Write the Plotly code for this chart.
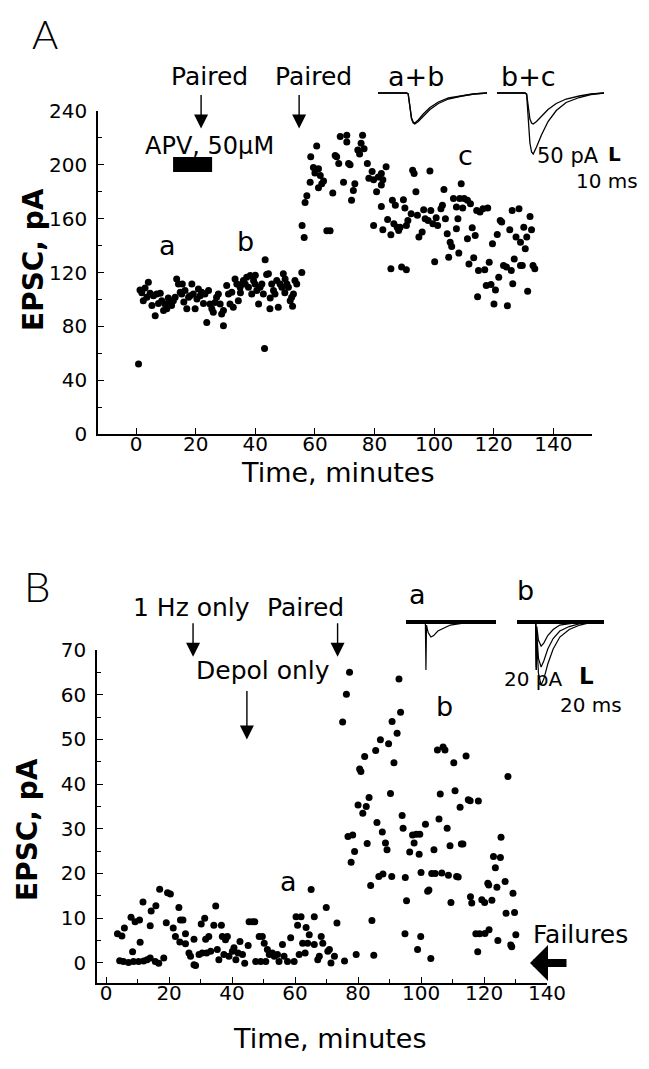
import plotly.graph_objects as go

W, H = 649, 1069
OFF = 8  # default page body margin around the figure
FW, FH = W - 2 * OFF, H - 2 * OFF
FONT = "DejaVu Sans, Liberation Sans, Arial, sans-serif"

# ---------------- Panel A data (time in minutes, EPSC in pA) ----------------
tA = [0.8, 1.3, 1.9, 2.4, 3.0, 3.6, 4.1, 4.7, 5.3, 5.8, 6.4, 6.9, 7.5, 8.1, 8.6, 9.2, 9.7, 10.3,
      10.8, 11.4, 11.9, 12.5, 13.1, 13.6, 14.2, 14.8, 15.3, 15.5, 16.0, 16.4, 17.0, 17.6, 18.1,
      18.7, 19.2, 19.8, 20.4, 20.9, 21.5, 22.0, 22.6, 23.1, 23.7, 24.3, 24.8, 25.4, 25.9, 26.5,
      27.0, 27.6, 28.2, 28.7, 29.3, 29.3, 30.4, 31.0, 31.5, 32.1, 32.6, 33.2, 33.8, 34.3, 34.9,
      35.0, 35.5, 36.0, 36.6, 37.1, 37.7, 38.3, 38.8, 39.4, 39.9, 40.0, 40.5, 41.1, 41.6, 42.2,
      42.7, 43.3, 43.1, 43.8, 44.4, 44.9, 45.0, 45.5, 46.1, 46.6, 47.2, 47.7, 48.3, 48.9, 49.4,
      49.9, 50.0, 50.6, 51.1, 51.7, 52.2, 52.5, 52.8, 53.3, 53.9, 55.6,
      55.7, 56.4, 56.7, 57.3, 58.4, 58.6, 59.5, 60.0, 60.6, 61.2, 61.2, 61.8, 62.3, 62.9, 64.0,
      65.1, 66.0, 66.8, 67.3, 68.0, 68.5, 69.6, 70.7, 70.7, 71.3, 71.8,
      76.0, 75.5, 76.5, 74.4, 75.0, 77.6, 79.2, 78.1, 79.7, 81.3, 82.3, 83.9, 82.8, 82.3, 80.7,
      73.4, 72.9, 72.3, 92.8, 93.3, 98.6, 93.9, 103.3, 109.1, 82.3, 86.0, 87.0, 89.7, 90.2,
      92.3, 94.4, 96.5, 98.9, 97.0, 98.0, 100.7, 102.3, 102.8, 103.8, 106.5, 107.5, 108.6,
      110.1, 111.2, 112.2, 114.3, 115.4, 116.4, 118.0, 109.6, 79.7, 82.8, 84.4, 86.5, 87.6,
      88.1, 88.6, 91.2, 90.7, 94.9, 96.0, 99.6, 101.2, 104.4, 105.4, 105.9, 107.5, 108.0,
      111.2, 112.8, 113.8, 119.6, 121.2, 122.2, 122.7, 125.4, 126.2, 128.5, 132.2, 130.1,
      132.7, 127.5, 129.0, 131.1, 130.6, 85.5, 89.1, 90.7, 100.2, 104.9, 108.3, 111.7, 113.3,
      114.9, 117.0, 118.5, 121.7, 123.3, 124.3, 125.9, 126.9, 129.0, 129.6, 133.2, 133.8,
      117.5, 119.1, 120.6, 126.4, 114.6, 120.1, 124.6, 131.4, 85.5]
vA = [52, 107, 105, 99, 108.5, 101.6, 112.8, 104.6, 95.4, 102.8, 87.9, 104, 97, 104.6, 99, 91.7,
      96.6, 93, 101, 98, 95.4, 99, 101.6, 115.2, 111.5, 105.3, 104, 111.5, 98, 106.6, 93, 101.6,
      102.8, 111.5, 104, 93, 100.3, 107.8, 102.8, 105.3, 97, 104, 82.9, 106.6, 96.6, 93, 90.4,
      97.8, 101.6, 104, 96.6, 89.2, 80.5, 91.7, 110.3, 104, 96.6, 105.3, 94.1, 115.2, 111.5, 99,
      109, 105, 111.5, 114, 111.5, 116.5, 109, 117.7, 104, 114, 111.5, 118, 106.6, 96.6, 109,
      111.5, 104, 129.4, 63.6, 118.5, 119, 93, 101, 111.5, 106.6, 104, 114, 94.1, 111.5, 109,
      119, 105, 115.2, 111.5, 109, 99, 101.6, 95, 104, 114, 111.5, 120,
      155, 146, 172, 177, 187, 206, 198, 194, 214, 197, 183, 192, 186, 188, 151,
      151, 179, 207, 206, 201, 221, 187, 222, 217, 201, 200,
      222, 216, 212, 211, 208, 201, 195, 190, 189, 191, 193.5, 198.5, 189, 185, 180,
      186, 181, 173.6, 196, 193.5, 195.5, 180, 181.6, 186, 169, 173.6, 170, 174, 168,
      163.7, 162.5, 166.7, 166, 160, 158.7, 160.7, 167.4, 170, 160, 174.9, 168.6, 174.9,
      174.9, 173.6, 171, 166, 164.9, 167.4, 168, 168, 155, 151.8, 159.3, 156.2, 153.7,
      151.2, 153.7, 158.7, 155, 146.3, 150, 156.2, 155, 148.8, 142.5, 139.3, 152.5, 160,
      145, 153.3, 147.5, 141.3, 148.2, 158.7, 157.5, 151.8, 166, 167.4, 161.7, 153.7,
      151.8, 146.3, 142.5, 146.3, 137.6, 122.7, 124, 122, 128, 131.4, 134.4, 126.4, 130.9,
      121.5, 122, 127.7, 116.5, 125.2, 124, 121.5, 130.1, 125.2, 125.2, 125.2, 122.7,
      110.3, 111, 107, 111.6, 102, 96.6, 95.3, 106, 148]

# ---------------- Panel B data ----------------
tB = [3.6, 5.0, 5.8, 4.3, 5.5, 7.1, 8.7, 10.3, 11.9, 13.0, 14.0, 15.6, 16.7, 18.3, 8.4, 7.9, 9.2,
      10.6, 10.8, 11.7, 14.0, 14.3, 15.8, 17.0, 19.1, 19.5, 20.4, 21.3, 23.1, 22.0, 23.4, 23.6,
      24.4, 25.2, 25.2, 26.3, 26.8, 27.9, 28.4, 27.9, 29.5, 30.5, 30.2, 31.3, 31.6, 32.6, 31.9,
      33.2, 34.2, 34.8, 35.3, 35.8, 36.6, 36.9, 37.9, 38.5, 37.4, 39.0, 40.1, 40.6, 41.2, 41.9,
      42.5, 43.3, 44.0, 45.1, 45.4, 46.5, 47.2, 47.5, 48.6, 49.1, 49.6, 50.2, 50.7, 51.2, 51.8,
      52.8, 53.4, 54.4, 54.9, 56.0, 56.5, 57.6, 58.6, 59.7, 60.3, 60.8, 61.9, 61.3, 62.4, 63.2,
      63.5, 64.0, 64.5, 65.1, 66.1, 66.1, 67.2, 67.7, 68.3, 68.8, 69.9, 70.4, 70.9, 71.4, 72.5,
      73.3,
      75.7, 75.1, 76.3, 77.3, 76.8, 78.3, 78.9, 77.8,
      93.0, 93.5, 90.8, 92.4, 87.1, 89.7, 85.6, 82.1, 80.5, 80.9, 91.4, 90.3, 105.2, 107.0,
      107.6, 110.4, 114.3, 127.6, 106.1, 110.8, 112.4, 115.0, 115.6, 118.2, 83.5, 80.0, 82.6,
      81.5, 86.0, 87.7, 94.0, 94.3, 101.4, 105.7, 108.3, 82.9, 88.7, 89.2, 97.3, 98.5, 99.6,
      97.8, 96.4, 99.4, 104.1, 109.2, 112.8, 113.3, 125.4, 123.0, 125.2, 123.6, 121.2, 121.5,
      124.1, 126.7, 129.2, 127.0, 129.7, 84.0, 86.6, 87.9, 90.7, 95.0, 100.0, 103.4, 104.5,
      106.6, 108.7, 111.3, 111.8, 102.1, 102.5, 95.4, 109.5, 115.7, 116.1, 119.3, 120.2,
      122.5, 84.4, 94.9, 99.9, 98.9, 103.1, 117.4, 118.6, 120.3, 121.6, 124.4, 128.5, 128.8,
      130.1, 118.0, 79.4, 85.0]
vB = [6.5, 6.0, 7.8, 0.5, 0.3, 0.1, 0.3, 0.3, 0.4, 0.7, 1.1, 0.3, -0.1, 1.1, 2.5, 10.2, 9.2,
      9.6, 4.6, 13.6, 8.3, 11.6, 12.8, 16.5, 9.0, 15.7, 15.4, 7.8, 12.4, 5.9, 4.7, 9.6,
      9.6, 6.5, 4.3, 2.2, 1.5, -0.4, -0.6, 5.3, 1.9, 2.2, 8.7, 10.0, 5.3, 5.9, 2.2,
      2.6, 8.4, 12.7, 3.0, 0.7, 8.4, 5.9, 5.2, 5.9, 1.9, 1.5, 2.6, 3.4, 0.7, 2.2,
      4.8, 1.9, -0.1, 3.9, 9.2, 9.2, 9.2, 0.3, 5.9, 0.3, 5.9, 4.4, 0.3, 3.0, 1.9,
      2.2, 1.5, 1.9, 0.3, 4.1, 1.5, 0.3, 5.6, 0.3, 10.3, 8.4, 10.3, 1.9, 4.4, 2.2,
      7.9, 4.4, 6.3, 16.4, 10.3, 4.1, 0.7, 1.5, 5.9, 4.4, 12.4, 2.6, 3.0, 0.0, 1.5,
      8.9,
      0.4, 53.9, 60.1, 65.0, 28.3, 28.6, 24.9, 22.5,
      63.5, 56.1, 54.0, 51.4, 49.9, 49.0, 47.5, 46.2, 43.4, 42.8, 44.8, 37.9, 47.6, 48.3,
      47.6, 44.8, 46.3, 41.7, 37.8, 38.5, 34.8, 36.5, 36.3, 36.2, 37.0, 35.3, 35.0,
      33.5, 31.4, 29.3, 33.0, 30.1, 31.0, 32.2, 30.1, 26.7, 26.8, 25.3, 28.6, 28.8, 28.8,
      26.8, 24.8, 24.3, 25.3, 26.2, 26.6, 26.6, 28.1, 23.8, 23.6, 21.3, 17.8, 17.4,
      16.9, 18.2, 15.6, 11.1, 11.3, 17.3, 19.3, 19.9, 19.3, 19.1, 20.2, 20.0, 20.0,
      20.1, 19.6, 19.3, 19.2, 16.0, 16.3, 13.9, 13.5, 14.8, 13.4, 14.1, 13.5,
      14.0, 9.5, 6.5, 5.9, 3.0, 1.0, 6.5, 6.5, 6.6, 7.4, 5.0, 4.0, 3.6,
      6.3, 2.5, 1.9, 1.7]

# ---------------- tick values ----------------
a_xticks = [0, 20, 40, 60, 80, 100, 120, 140]
a_yticks = [0, 40, 80, 120, 160, 200, 240]
b_xticks = [0, 20, 40, 60, 80, 100, 120, 140]
b_yticks = [0, 10, 20, 30, 40, 50, 60, 70]

# ---------------- inset sample traces (ms, pA) ----------------
ins_ms = [0, 17, 18, 19, 20, 21, 22, 24, 27, 31, 36, 42, 50, 57, 65]
epsc_a = [0, 0, -2, -25, -50, -58, -60, -54, -42, -29, -18, -10, -5, -2, 0]
epsc_b = [0, 0, -2, -26, -52, -60, -62, -57, -46, -33, -21, -12, -6, -2, 0]
epsc_c = [0, 0, -3, -50, -100, -118, -122, -108, -84, -57, -35, -19, -9, -3, 0]

insB_ms = [0, 13.5, 14, 14.4, 14.8, 16, 18, 20, 23, 27, 32, 39, 47, 56, 65]
resp_a = [0, 0, -1, -32, -2, -7, -10, -9, -6, -4, -2, -1, 0, 0, 0]
resp_b1 = [0, 0, -1, -32, -12, -34, -42, -38, -28, -18, -10, -5, -2, 0, 0]
resp_b2 = [0, 0, -1, -32, -8, -24, -30, -26, -18, -11, -6, -3, -1, 0, 0]
resp_b3 = [0, 0, -1, -30, -3, -12, -16, -14, -9, -5, -2, -1, 0, 0, 0]


def px(x):
    return (x - OFF) / FW


def py(y):
    return 1 - (y - OFF) / FH


fig = go.Figure()
dot = dict(color="black", size=7)
fig.add_trace(go.Scatter(x=tA, y=vA, mode="markers", marker=dot, xaxis="x", yaxis="y"))
fig.add_trace(go.Scatter(x=tB, y=vB, mode="markers", marker=dot, xaxis="x2", yaxis="y2"))

ln = dict(color="black", width=1.3)
for ys, ax in [(epsc_a, "3"), (epsc_b, "3"), (epsc_b, "4"), (epsc_c, "4")]:
    fig.add_trace(go.Scatter(x=ins_ms, y=ys, mode="lines", line=ln,
                             xaxis="x" + ax, yaxis="y" + ax))
for ys, ax in [(resp_a, "5"), (resp_b1, "6"), (resp_b2, "6"), (resp_b3, "6")]:
    fig.add_trace(go.Scatter(x=insB_ms, y=ys, mode="lines", line=dict(color="black", width=1.2),
                             xaxis="x" + ax, yaxis="y" + ax))
for ax in ["5", "6"]:
    fig.add_trace(go.Scatter(x=[insB_ms[0], insB_ms[-1]], y=[0, 0], mode="lines",
                             line=dict(color="black", width=4), xaxis="x" + ax, yaxis="y" + ax))

tickfont = dict(family=FONT, size=20, color="black")


def main_axis(domain, rng, tickvals, minor_dtick=None, standoff=5, **kw):
    d = dict(domain=domain, range=rng, showline=True, linecolor="black", linewidth=1.5,
             ticks="inside", ticklen=6, tickwidth=1.3, tickcolor="black",
             tickvals=tickvals, ticktext=[str(v) for v in tickvals],
             showgrid=False, zeroline=False, tickfont=tickfont, ticklabelstandoff=standoff,
             fixedrange=True, automargin=False)
    if minor_dtick:
        d["minor"] = dict(ticks="inside", ticklen=4, tickcolor="black", dtick=minor_dtick,
                          tick0=0, showgrid=False)
    d.update(kw)
    return d


def hidden(domain, rng, **kw):
    d = dict(domain=domain, range=rng, visible=False, fixedrange=True, automargin=False)
    d.update(kw)
    return d


layout = dict(
    width=FW, height=FH, autosize=False,
    margin=dict(l=0, r=0, t=0, b=0, pad=0, autoexpand=False),
    paper_bgcolor="white", plot_bgcolor="rgba(0,0,0,0)", showlegend=False,
    xaxis=main_axis([px(98), px(592)], [-12.8, 153], a_xticks, standoff=-9, anchor="y"),
    yaxis=main_axis([py(434), py(111)], [0, 240], a_yticks, minor_dtick=20, anchor="x"),
    xaxis2=main_axis([px(97), px(547)], [-2.9, 140], b_xticks, minor_dtick=10, standoff=-9,
                     anchor="y2"),
    yaxis2=main_axis([py(983), py(650)], [-4.5, 70], b_yticks, minor_dtick=5, anchor="x2"),
    xaxis3=hidden([px(378), px(487)], [0, 65], anchor="y3"),
    yaxis3=hidden([py(158), py(88)], [-130, 10], anchor="x3"),
    xaxis4=hidden([px(497), px(604)], [0, 65], anchor="y4"),
    yaxis4=hidden([py(158), py(88)], [-130, 10], anchor="x4"),
    xaxis5=hidden([px(406), px(496)], [0, 65], anchor="y5"),
    yaxis5=hidden([py(690), py(612)], [-45.3, 6.7], anchor="x5"),
    xaxis6=hidden([px(517), px(604)], [0, 65], anchor="y6"),
    yaxis6=hidden([py(690), py(612)], [-45.3, 6.7], anchor="x6"),
)
fig.update_layout(**layout)

ann = []


def ptext(x, y, text, size, **kw):
    f = dict(family=FONT, size=size, color="black")
    f.update(kw.pop("font", {}))
    a = dict(x=px(x), y=py(y), xref="paper", yref="paper", text=text, showarrow=False,
             font=f, xanchor="center", yanchor="middle")
    a.update(kw)
    ann.append(a)


def dtext(x, y, text, size, xr, yr, **kw):
    a = dict(x=x, y=y, xref=xr, yref=yr, text=text, showarrow=False,
             font=dict(family=FONT, size=size, color="black"), xanchor="center", yanchor="middle")
    a.update(kw)
    ann.append(a)


def arrow(x, y, xr, yr, ax, ay, head=2, width=1.4, size=2.0):
    ann.append(dict(x=x, y=y, xref=xr, yref=yr, ax=ax, ay=ay, text="", showarrow=True,
                    arrowhead=head, arrowwidth=width, arrowsize=size, arrowcolor="black"))


# panel labels
ptext(45, 34, "A", 40, font=dict(family="Lato, " + FONT, weight=300))
ptext(37, 586, "B", 42, font=dict(family="Lato, " + FONT, weight=300))

# axis titles
ptext(33, 260, "EPSC, pA", 28, textangle=-90, font=dict(weight="bold"))
ptext(27, 830, "EPSC, pA", 28, textangle=-90, font=dict(weight="bold"))
ptext(338, 472, "Time, minutes", 27)
ptext(330, 1038, "Time, minutes", 27)

# Panel A annotations
ptext(209, 76, "Paired", 25)
ptext(313, 76, "Paired", 25)
arrow(21.8, 227, "x", "y", 0, -35)
arrow(54.7, 227, "x", "y", 0, -35)
ptext(209, 146, "APV, 50µM", 24)
fig.add_shape(type="rect", xref="x", yref="y", x0=12.4, x1=25.5, y0=194.7, y1=205.8,
              fillcolor="black", line=dict(width=0))
dtext(10.4, 140, "a", 27, "x", "y")
dtext(36.6, 143, "b", 27, "x", "y")
dtext(110.4, 207, "c", 27, "x", "y")
ptext(416, 76, "a+b", 27)
ptext(528, 76, "b+c", 27)
ptext(568, 156, "50 pA", 21)
ptext(614, 154, "L", 20, font=dict(weight="bold"))
ptext(607, 181, "10 ms", 20)

# Panel B annotations
ptext(191, 607, "1 Hz only", 25)
ptext(305, 607, "Paired", 25)
ptext(263, 670, "Depol only", 25)
arrow(27.6, 68.5, "x2", "y2", 0, -35)
arrow(73.5, 68.5, "x2", "y2", 0, -35)
arrow(44.7, 50, "x2", "y2", 0, -50)
dtext(58, 18.3, "a", 27, "x2", "y2")
dtext(107.5, 57.3, "b", 27, "x2", "y2")
ptext(417, 594, "a", 27)
ptext(525, 590, "b", 27)
ptext(533, 679, "20 pA", 20)
ptext(586, 676, "L", 23, font=dict(weight="bold"))
ptext(591, 705, "20 ms", 20)
ptext(580, 934, "Failures", 25)
arrow(134.6, 0, "x2", "y2", 38, 0, head=1, width=8, size=0.75)

fig.update_layout(annotations=ann)
fig.write_html("out.html")
